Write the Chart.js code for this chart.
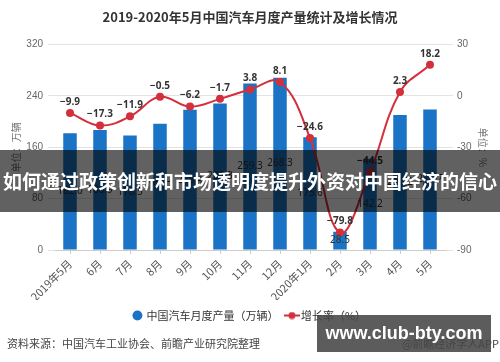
<!DOCTYPE html>
<html>
<head>
<meta charset="utf-8">
<script src="https://cdn.jsdelivr.net/npm/chart.js@4/dist/chart.umd.min.js"></script>
<style>
  body { margin: 0; background: #fff; font-family: "Noto Sans CJK SC", "Noto Sans", sans-serif; }
  #wrap { position: relative; width: 500px; height: 362px; overflow: hidden; }
  #source { position: absolute; left: 7px; top: 335px; font-size: 11px; color: #444; white-space: nowrap; }
  #app { position: absolute; right: 1px; top: 335px; font-size: 11px; color: #444; white-space: nowrap; }
  #banner { position: absolute; left: 0; top: 150px; width: 500px; height: 62px; background: rgba(0,0,0,0.62);
            color: #fff; font-weight: bold; font-size: 19px; line-height: 62px; text-align: center; white-space: nowrap; }
  #site { position: absolute; left: 317px; top: 315px; width: 174px; height: 37px; background: rgba(70,70,70,0.88);
          color: #fff; font-family: "Liberation Sans", sans-serif; font-weight: bold; font-size: 18px; line-height: 37px;
          text-align: center; white-space: nowrap; }
</style>
</head>
<body>
<div id="wrap">
  <canvas id="autoChart" width="500" height="362"></canvas>
  <div id="source">资料来源：中国汽车工业协会、前瞻产业研究院整理</div>
  <div id="app">@前瞻经济学人APP</div>
  <div id="banner">如何通过政策创新和市场透明度提升外资对中国经济的信心</div>
  <div id="site">www.club-bty.com</div>
</div>
<script>
var months = ['2019年5月', '6月', '7月', '8月', '9月', '10月', '11月', '12月', '2020年1月', '2月', '3月', '4月', '5月'];
var output = [182.0, 186.9, 178.5, 196.7, 218.4, 228.3, 259.3, 268.3, 175.6, 28.5, 142.2, 210.2, 218.7];
var growth = [-9.9, -17.3, -11.9, -0.5, -6.2, -1.7, 3.8, 8.1, -24.6, -79.8, -44.5, 2.3, 18.2];
var leftTicks = [0, 80, 160, 240, 320];
var rightTicks = [-90, -60, -30, 0, 30];

var BLUE = '#1a73c4';
var RED = '#d3303c';

document.addEventListener("DOMContentLoaded", function () {
    // little line-with-dot icon for the legend
    var lineIcon = document.createElement('canvas');
    lineIcon.width = 16;
    lineIcon.height = 8;
    var ic = lineIcon.getContext('2d');
    ic.strokeStyle = RED;
    ic.lineWidth = 2;
    ic.beginPath(); ic.moveTo(0, 4); ic.lineTo(16, 4); ic.stroke();
    ic.fillStyle = RED;
    ic.beginPath(); ic.arc(8, 4, 3.5, 0, Math.PI * 2); ic.fill();

    var valueLabels = {
        id: 'valueLabels',
        afterDatasetsDraw: function (chart) {
            var ctx = chart.ctx;
            ctx.save();
            ctx.textAlign = 'center';
            ctx.textBaseline = 'middle';
            var barMeta = chart.getDatasetMeta(0);
            ctx.font = '10px "Noto Sans", sans-serif';
            ctx.fillStyle = '#333';
            barMeta.data.forEach(function (el, i) {
                ctx.fillText(output[i].toFixed(1), el.x, (el.y + el.base) / 2);
            });
            var lineMeta = chart.getDatasetMeta(1);
            ctx.font = 'bold 10px "Noto Sans", sans-serif';
            lineMeta.data.forEach(function (el, i) {
                ctx.fillText(growth[i].toFixed(1).replace('-', '\u2212'), el.x, el.y - 11);
            });
            ctx.restore();
        }
    };

    var ctx = document.getElementById('autoChart').getContext('2d');
    var autoChart = new Chart(ctx, {
        type: 'bar',
        data: {
            labels: months,
            datasets: [{
                label: '中国汽车月度产量（万辆）',
                data: output,
                backgroundColor: BLUE,
                yAxisID: 'y',
                barPercentage: 0.9,
                categoryPercentage: 0.5,
                order: 2
            }, {
                type: 'line',
                label: '增长率（%）',
                data: growth,
                borderColor: RED,
                backgroundColor: RED,
                borderWidth: 2,
                pointRadius: 4,
                pointBackgroundColor: RED,
                pointBorderWidth: 0,
                tension: 0.4,
                yAxisID: 'y1',
                order: 1
            }]
        },
        options: {
            responsive: false,
            animation: false,
            layout: { padding: { left: 0, right: 0, top: 0, bottom: 31 } },
            plugins: {
                title: {
                    display: true,
                    text: '2019-2020年5月中国汽车月度产量统计及增长情况',
                    color: '#333',
                    font: { size: 13, weight: 'bold', family: '"Noto Sans CJK SC", sans-serif' },
                    padding: { top: 9, bottom: 20 }
                },
                legend: {
                    position: 'bottom',
                    labels: {
                        usePointStyle: true,
                        boxWidth: 7,
                        boxHeight: 7,
                        padding: 10,
                        color: '#333',
                        font: { size: 11, family: '"Noto Sans CJK SC", sans-serif' },
                        generateLabels: function (chart) {
                            var items = Chart.defaults.plugins.legend.labels.generateLabels(chart);
                            items.forEach(function (it) {
                                if (it.datasetIndex === 0) {
                                    it.pointStyle = 'circle';
                                    it.fillStyle = BLUE;
                                    it.strokeStyle = BLUE;
                                } else {
                                    it.pointStyle = lineIcon;
                                }
                            });
                            return items;
                        },
                        sort: function (a, b) { return a.datasetIndex - b.datasetIndex; }
                    }
                },
                tooltip: { enabled: false }
            },
            scales: {
                x: {
                    grid: { display: true, drawOnChartArea: false, offset: false, color: '#ccc', tickLength: 4 },
                    border: { color: '#ccc' },
                    ticks: {
                        color: '#555',
                        font: { size: 11, family: '"Noto Sans CJK SC", sans-serif' },
                        minRotation: 45,
                        maxRotation: 45,
                        autoSkip: false
                    },
                    afterFit: function (scale) { scale.height = 50; }
                },
                y: {
                    position: 'left',
                    min: 0,
                    max: 320,
                    afterBuildTicks: function (scale) {
                        scale.ticks = leftTicks.map(function (v) { return { value: v }; });
                    },
                    grid: { color: '#e3e3e3', tickLength: 7 },
                    border: { display: false },
                    ticks: { color: '#666', font: { size: 10 }, padding: 5 },
                    title: {
                        display: true,
                        text: '单位：万辆',
                        color: '#777',
                        font: { size: 10, family: '"Noto Sans CJK SC", sans-serif' },
                        padding: { top: 10, bottom: 0 }
                    },
                    afterFit: function (scale) { scale.width = 55; }
                },
                y1: {
                    position: 'right',
                    min: -90,
                    max: 30,
                    afterBuildTicks: function (scale) {
                        scale.ticks = rightTicks.map(function (v) { return { value: v }; });
                    },
                    grid: { drawOnChartArea: false, color: '#e3e3e3', tickLength: 8 },
                    border: { display: false },
                    ticks: { color: '#666', font: { size: 10 }, padding: 4 },
                    title: {
                        display: true,
                        text: '单位：%',
                        color: '#777',
                        font: { size: 10, family: '"Noto Sans CJK SC", sans-serif' },
                        padding: { top: 11, bottom: 0 }
                    },
                    afterFit: function (scale) { scale.width = 55; }
                }
            }
        },
        plugins: [valueLabels]
    });
});
</script>
</body>
</html>
